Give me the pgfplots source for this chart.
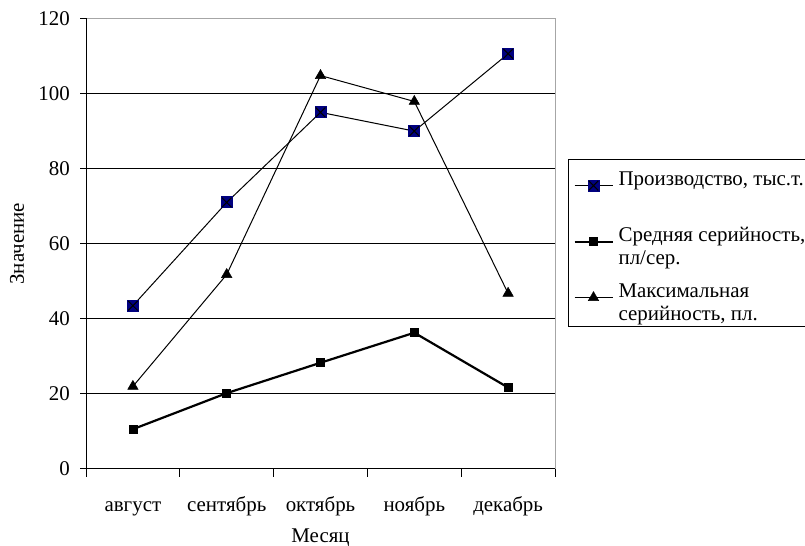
\documentclass[border=0pt]{standalone}
\usepackage{pgfplots}
\pgfplotsset{compat=1.18}
\usepackage{fontspec}
\setmainfont{Liberation Serif}
\definecolor{navyc}{HTML}{000080}
\pgfdeclareplotmark{sqx}{%
  \pgfpathrectangle{\pgfpoint{-\pgfplotmarksize}{-\pgfplotmarksize}}{\pgfpoint{2\pgfplotmarksize}{2\pgfplotmarksize}}%
  \pgfsetfillcolor{navyc}\pgfusepathqfill
  \pgfpathmoveto{\pgfpoint{-0.8\pgfplotmarksize}{-0.8\pgfplotmarksize}}\pgfpathlineto{\pgfpoint{0.8\pgfplotmarksize}{0.8\pgfplotmarksize}}%
  \pgfpathmoveto{\pgfpoint{-0.8\pgfplotmarksize}{0.8\pgfplotmarksize}}\pgfpathlineto{\pgfpoint{0.8\pgfplotmarksize}{-0.8\pgfplotmarksize}}%
  \pgfsetstrokecolor{black}\pgfusepathqstroke}
\newcommand{\two}[2]{\vtop{\hbox{\strut #1}\hbox{\strut #2}}}
\begin{document}
\fontsize{21}{23}\selectfont
\begin{tikzpicture}[x=1bp,y=1bp]
\path[use as bounding box] (0,0) rectangle (805,546);
\clip (0,0) rectangle (805,546);
\begin{axis}[
  at={(86bp,77bp)}, anchor=south west,
  scale only axis, width=469bp, height=450.5bp,
  xmin=-0.5, xmax=4.5, ymin=0, ymax=120,
  font=\fontsize{21}{23}\selectfont,
  /pgf/number format/assume math mode=true,
  xtick={0,...,4},
  xticklabels={август,сентябрь,октябрь,ноябрь,декабрь},
  minor xtick={-0.5,0.5,...,4.5},
  major x tick style={draw=none},
  minor tick length=8bp,
  major tick length=6bp,
  tick align=outside,
  xtick pos=bottom, ytick pos=left,
  ytick={0,20,...,100},
  extra y ticks={120}, extra y tick style={grid=none},
  ymajorgrids, major grid style={black, line width=1bp},
  tick style={black, line width=1bp},
  axis line style={draw=gray!70, line width=1bp},
  xticklabel style={anchor=base, yshift=-37bp},
  yticklabel style={anchor=east, xshift=-3bp},
  xlabel={Месяц}, ylabel={Значение},
  xlabel style={at={(axis description cs:0.5,0)}, anchor=center, yshift=-69bp},
  ylabel style={at={(axis description cs:0,0.5)}, anchor=center, yshift=69bp},
  legend style={at={(axis description cs:1.0277,0.6876)}, anchor=north west,
    draw=black, line width=0.8bp, inner xsep=5bp, inner ysep=4bp, row sep=9bp, column sep=4bp,
    cells={anchor=base west},
    nodes={inner sep=1bp, text height=21bp, text depth=24bp}, font=\fontsize{21}{23}\selectfont},
  legend image code/.code={\path[draw=none,fill=none] (0bp,-6.5bp) rectangle (38bp,6.5bp);
    \draw[mark repeat=2,mark phase=2,#1] plot coordinates {(0bp,0bp)(19bp,0bp)(38bp,0bp)};},
]
\addplot[black, line width=1bp, mark=sqx, mark size=6bp, mark options={solid}]
  coordinates {(0,43.5)(1,71)(2,95)(3,90)(4,110.6)};
\addlegendentry{\two{Производство, тыс.т.}{}}
\addplot[black, line width=2.2bp, mark=square*, mark size=4bp, mark options={line width=0.5bp}]
  coordinates {(0,10.6)(1,20.2)(2,28.3)(3,36.3)(4,21.7)};
\addlegendentry{\two{Средняя серийность,}{пл/сер.}}
\addplot[black, line width=1bp, mark=triangle*, mark size=6bp, mark options={line width=0.5bp}]
  coordinates {(0,22)(1,51.8)(2,104.8)(3,97.9)(4,46.8)};
\addlegendentry{\two{Максимальная}{серийность, пл.}}
\draw[black, line width=1bp] (rel axis cs:0,1) -- (rel axis cs:0,0) -- (rel axis cs:1,0);
\end{axis}
\end{tikzpicture}
\end{document}
